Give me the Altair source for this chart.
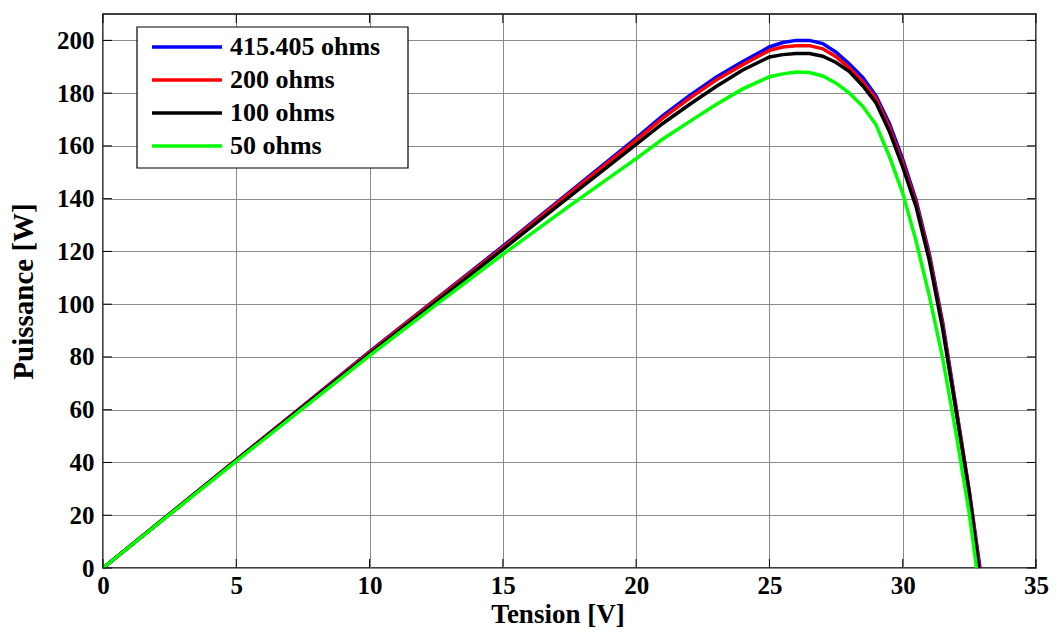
import altair as alt
import pandas as pd

# ---- data ----
series_names = ["415.405 ohms", "200 ohms", "100 ohms", "50 ohms"]
series_colors = ["#0000FF", "#FF0000", "#000000", "#00FF00"]

V_415 = [0, 2.5, 5, 7.5, 10, 12.5, 15, 17.5, 20, 21, 22, 23, 24, 25, 25.5, 26, 26.5, 27,
         27.5, 28, 28.5, 29, 29.5, 30, 30.5, 31, 31.5, 32, 32.5, 32.9]
P_415 = [0, 20.5, 41, 61.5, 82, 102, 122, 142.5, 163, 171.5, 179, 186, 192, 197.5, 199.2, 200, 200, 198.8,
         195.5, 191, 186, 179, 168.5, 155, 139.5, 119, 93, 61, 29, 0]

V_200 = [0, 2.5, 5, 7.5, 10, 12.5, 15, 17.5, 20, 21, 22, 23, 24, 25, 25.5, 26, 26.5, 27,
         27.5, 28, 28.5, 29, 29.5, 30, 30.5, 31, 31.5, 32, 32.5, 32.88]
P_200 = [0, 20.5, 41, 61.3, 81.7, 101.7, 121.5, 142, 162.2, 170.5, 178, 185, 190.8, 196.2, 197.5, 198, 198, 196.8,
         193.8, 189.5, 184.3, 177.8, 167, 153.5, 138.5, 118, 92, 60.5, 28.5, 0]

V_100 = [0, 2.5, 5, 7.5, 10, 12.5, 15, 17.5, 20, 21, 22, 23, 24, 25, 25.5, 26, 26.5, 27,
         27.5, 28, 28.5, 29, 29.5, 30, 30.5, 31, 31.5, 32, 32.5, 32.85]
P_100 = [0, 20.4, 40.8, 61, 81.2, 101, 120.8, 140.8, 160.6, 168.5, 175.7, 182.5, 188.8, 193.7, 194.6, 195, 195, 194,
         191.6, 188.2, 182.8, 176.3, 165.5, 152, 137, 116.5, 90.5, 59.5, 28, 0]

V_50 = [0, 2.5, 5, 7.5, 10, 12.5, 15, 17.5, 20, 21, 22, 23, 24, 25, 25.5, 26, 26.5, 27,
        27.5, 28, 28.5, 29, 29.5, 30, 30.5, 31, 31.5, 32, 32.5, 32.77]
P_50 = [0, 20.3, 40.5, 60.5, 80.5, 99.8, 118.9, 137.3, 155.2, 162.6, 169.2, 175.7, 181.6, 186.2, 187.3, 188, 187.8, 186.5,
        183.8, 180, 175, 168, 156, 142, 124, 103, 79.5, 51, 20.5, 0]

x_ticks = [0, 5, 10, 15, 20, 25, 30, 35]
y_ticks = [0, 20, 40, 60, 80, 100, 120, 140, 160, 180, 200]

# ---- build table ----
rows = []
for name, vs, ps in zip(series_names, [V_415, V_200, V_100, V_50], [P_415, P_200, P_100, P_50]):
    for i, (v, p) in enumerate(zip(vs, ps)):
        rows.append({"serie": name, "V": v, "P": p, "i": i})
df = pd.DataFrame(rows)

W, H = 933, 554
FONT = "Liberation Serif"

x_scale = alt.Scale(domain=[0, 35], nice=False, zero=False)
y_scale = alt.Scale(domain=[0, 210], nice=False, zero=False)
color_scale = alt.Scale(domain=series_names, range=series_colors)

x_axis = alt.Axis(values=x_ticks, title="Tension [V]", titleFont=FONT, titleFontSize=27,
                  titleFontWeight="bold", titleColor="black", titlePadding=3.2, titleX=W / 2 - 12,
                  labelFont=FONT, labelFontSize=25, labelFontWeight="bold", labelColor="black",
                  labelPadding=5, labelFlush=False, labelOverlap=False, ticks=False, domain=False,
                  grid=True, gridColor="#8a8a8a", gridWidth=1)
y_axis = alt.Axis(values=y_ticks, title="Puissance [W]", titleFont=FONT, titleFontSize=29,
                  titleFontWeight="bold", titleColor="black", titlePadding=18,
                  labelFont=FONT, labelFontSize=25, labelFontWeight="bold", labelColor="black",
                  labelPadding=9, labelFlush=False, labelOverlap=False, ticks=False, domain=False,
                  grid=True, gridColor="#8a8a8a", gridWidth=1)

base = alt.Chart(df)
layers = []
for name in series_names:
    layers.append(
        base.transform_filter(alt.datum.serie == name)
        .mark_line(strokeWidth=3.5)
        .encode(
            x=alt.X("V:Q", scale=x_scale, axis=x_axis),
            y=alt.Y("P:Q", scale=y_scale, axis=y_axis),
            color=alt.Color("serie:N", scale=color_scale, legend=None),
            order=alt.Order("i:Q"),
        )
    )

xt = pd.DataFrame({"t": x_ticks})
yt = pd.DataFrame({"t": y_ticks})
tick_bottom = alt.Chart(xt).mark_rule(color="black", strokeWidth=1).encode(
    x=alt.X("t:Q", scale=x_scale, axis=x_axis), y=alt.value(H - 9), y2=alt.value(H))
tick_top = alt.Chart(xt).mark_rule(color="black", strokeWidth=1).encode(
    x=alt.X("t:Q", scale=x_scale, axis=x_axis), y=alt.value(0), y2=alt.value(9))
tick_left = alt.Chart(yt).mark_rule(color="black", strokeWidth=1).encode(
    y=alt.Y("t:Q", scale=y_scale, axis=y_axis), x=alt.value(0), x2=alt.value(9))
tick_right = alt.Chart(yt).mark_rule(color="black", strokeWidth=1).encode(
    y=alt.Y("t:Q", scale=y_scale, axis=y_axis), x=alt.value(W - 9), x2=alt.value(W))

main = alt.layer(*layers, tick_bottom, tick_top, tick_left, tick_right)

# ---- legend box (drawn as marks so its geometry can follow the reference) ----
leg_df = pd.DataFrame({"serie": series_names})
leg_y = alt.Scale(type="point", domain=series_names, range=[33, 132], padding=0)
leg_box = alt.Chart(pd.DataFrame({"k": [0]})).mark_rect(
    fill="white", stroke="black", strokeWidth=1.2
).encode(x=alt.value(34), x2=alt.value(305), y=alt.value(13), y2=alt.value(154))
leg_lines = alt.Chart(leg_df).mark_rule(strokeWidth=3.5).encode(
    x=alt.value(49), x2=alt.value(119),
    y=alt.Y("serie:N", scale=leg_y, axis=None),
    color=alt.Color("serie:N", scale=color_scale, legend=None),
)
leg_text = alt.Chart(leg_df).mark_text(
    align="left", baseline="middle", font=FONT, fontSize=26, fontWeight="bold", color="black"
).encode(
    x=alt.value(127),
    y=alt.Y("serie:N", scale=leg_y, axis=None),
    text="serie:N",
)
legend_layer = alt.layer(leg_box, leg_lines, leg_text)

chart = alt.layer(main, legend_layer).resolve_scale(y="independent").properties(
    width=W, height=H,
    autosize=alt.AutoSizeParams(type="none"),
    padding={"left": 95, "top": 6, "right": 14, "bottom": 61},
    background="white",
).configure_view(stroke="black", strokeWidth=1.5)

chart.save("out.html", embed_options={"renderer": "svg", "actions": False})
